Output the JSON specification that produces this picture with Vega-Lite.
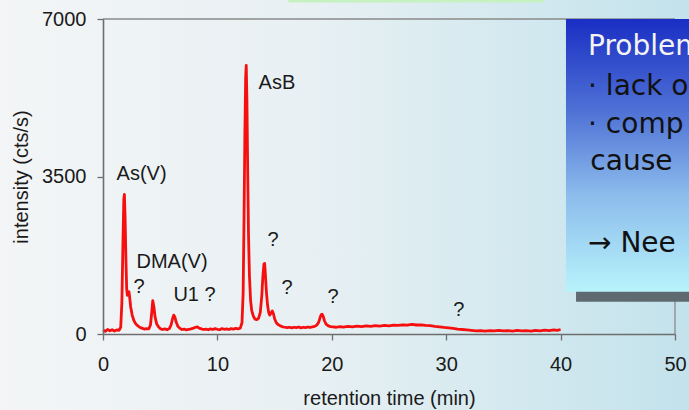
{
  "$schema": "https://vega.github.io/schema/vega-lite/v6.json",
  "width": 572,
  "height": 315,
  "autosize": {"type": "none"},
  "padding": {"left": 103, "top": 19, "right": 14, "bottom": 76},
  "background": "#e6eff2",
  "config": {"view": {"stroke": null}, "font": "Liberation Sans"},
  "datasets": {
    "chrom": [
      {"t": 0.0, "v": 90}, {"t": 0.2, "v": 60}, {"t": 0.4, "v": 100}, {"t": 0.6, "v": 70}, {"t": 0.8, "v": 95},
      {"t": 1.0, "v": 65}, {"t": 1.2, "v": 90}, {"t": 1.4, "v": 80}, {"t": 1.55, "v": 150}, {"t": 1.65, "v": 700},
      {"t": 1.75, "v": 2100}, {"t": 1.82, "v": 3000}, {"t": 1.87, "v": 3100}, {"t": 1.93, "v": 2600}, {"t": 2.0, "v": 1700},
      {"t": 2.07, "v": 1000}, {"t": 2.13, "v": 860}, {"t": 2.2, "v": 900}, {"t": 2.27, "v": 940}, {"t": 2.33, "v": 820},
      {"t": 2.42, "v": 600}, {"t": 2.55, "v": 420}, {"t": 2.7, "v": 300}, {"t": 2.85, "v": 230}, {"t": 3.0, "v": 190},
      {"t": 3.2, "v": 150}, {"t": 3.4, "v": 130}, {"t": 3.6, "v": 110}, {"t": 3.8, "v": 120}, {"t": 4.0, "v": 115},
      {"t": 4.15, "v": 200}, {"t": 4.25, "v": 450}, {"t": 4.35, "v": 740}, {"t": 4.45, "v": 600}, {"t": 4.55, "v": 380},
      {"t": 4.7, "v": 220}, {"t": 4.85, "v": 160}, {"t": 5.0, "v": 120}, {"t": 5.2, "v": 100}, {"t": 5.4, "v": 115},
      {"t": 5.6, "v": 95}, {"t": 5.8, "v": 120}, {"t": 5.95, "v": 200}, {"t": 6.08, "v": 340}, {"t": 6.18, "v": 420},
      {"t": 6.28, "v": 380}, {"t": 6.4, "v": 260}, {"t": 6.55, "v": 170}, {"t": 6.7, "v": 130}, {"t": 6.9, "v": 100},
      {"t": 7.1, "v": 110}, {"t": 7.3, "v": 90}, {"t": 7.5, "v": 105}, {"t": 7.7, "v": 115}, {"t": 7.9, "v": 130},
      {"t": 8.1, "v": 150}, {"t": 8.25, "v": 160}, {"t": 8.4, "v": 130}, {"t": 8.6, "v": 115}, {"t": 8.8, "v": 100},
      {"t": 9.0, "v": 110}, {"t": 9.2, "v": 95}, {"t": 9.4, "v": 115}, {"t": 9.6, "v": 100}, {"t": 9.8, "v": 120},
      {"t": 10.0, "v": 105}, {"t": 10.2, "v": 95}, {"t": 10.4, "v": 120}, {"t": 10.6, "v": 105}, {"t": 10.8, "v": 115},
      {"t": 11.0, "v": 100}, {"t": 11.2, "v": 120}, {"t": 11.4, "v": 110}, {"t": 11.6, "v": 125}, {"t": 11.8, "v": 115},
      {"t": 12.0, "v": 130}, {"t": 12.15, "v": 250}, {"t": 12.25, "v": 900}, {"t": 12.33, "v": 2600}, {"t": 12.4, "v": 4400},
      {"t": 12.47, "v": 5700}, {"t": 12.52, "v": 5970}, {"t": 12.58, "v": 5200}, {"t": 12.65, "v": 3600}, {"t": 12.72, "v": 2200},
      {"t": 12.8, "v": 1300}, {"t": 12.9, "v": 750}, {"t": 13.0, "v": 520}, {"t": 13.15, "v": 390}, {"t": 13.3, "v": 330},
      {"t": 13.45, "v": 320}, {"t": 13.6, "v": 350}, {"t": 13.75, "v": 480}, {"t": 13.88, "v": 850}, {"t": 13.98, "v": 1300},
      {"t": 14.07, "v": 1560}, {"t": 14.13, "v": 1570}, {"t": 14.2, "v": 1300}, {"t": 14.28, "v": 950}, {"t": 14.38, "v": 650},
      {"t": 14.48, "v": 480}, {"t": 14.58, "v": 420}, {"t": 14.7, "v": 470}, {"t": 14.8, "v": 510}, {"t": 14.9, "v": 450},
      {"t": 15.0, "v": 340}, {"t": 15.15, "v": 250}, {"t": 15.3, "v": 210}, {"t": 15.5, "v": 180}, {"t": 15.7, "v": 160},
      {"t": 15.9, "v": 150}, {"t": 16.1, "v": 140}, {"t": 16.3, "v": 150}, {"t": 16.5, "v": 135}, {"t": 16.7, "v": 150},
      {"t": 16.9, "v": 140}, {"t": 17.1, "v": 155}, {"t": 17.3, "v": 135}, {"t": 17.5, "v": 150}, {"t": 17.7, "v": 140},
      {"t": 17.9, "v": 155}, {"t": 18.1, "v": 145}, {"t": 18.3, "v": 160}, {"t": 18.5, "v": 170}, {"t": 18.7, "v": 200},
      {"t": 18.85, "v": 260}, {"t": 18.97, "v": 360}, {"t": 19.07, "v": 430}, {"t": 19.15, "v": 440}, {"t": 19.25, "v": 390},
      {"t": 19.35, "v": 300}, {"t": 19.5, "v": 220}, {"t": 19.7, "v": 180}, {"t": 19.9, "v": 165}, {"t": 20.1, "v": 160},
      {"t": 20.4, "v": 150}, {"t": 20.7, "v": 165}, {"t": 21.0, "v": 155}, {"t": 21.4, "v": 170}, {"t": 21.8, "v": 160},
      {"t": 22.2, "v": 175}, {"t": 22.6, "v": 165}, {"t": 23.0, "v": 180}, {"t": 23.4, "v": 170}, {"t": 23.8, "v": 185},
      {"t": 24.2, "v": 175}, {"t": 24.6, "v": 190}, {"t": 25.0, "v": 180}, {"t": 25.4, "v": 195}, {"t": 25.8, "v": 190},
      {"t": 26.2, "v": 205}, {"t": 26.6, "v": 195}, {"t": 27.0, "v": 215}, {"t": 27.4, "v": 200}, {"t": 27.8, "v": 205},
      {"t": 28.2, "v": 190}, {"t": 28.6, "v": 185}, {"t": 29.0, "v": 170}, {"t": 29.4, "v": 160}, {"t": 29.8, "v": 145},
      {"t": 30.2, "v": 135}, {"t": 30.6, "v": 125}, {"t": 31.0, "v": 110}, {"t": 31.4, "v": 100}, {"t": 31.8, "v": 90},
      {"t": 32.2, "v": 80}, {"t": 32.6, "v": 70}, {"t": 33.0, "v": 75}, {"t": 33.4, "v": 65}, {"t": 33.8, "v": 75},
      {"t": 34.2, "v": 70}, {"t": 34.6, "v": 80}, {"t": 35.0, "v": 70}, {"t": 35.4, "v": 75}, {"t": 35.8, "v": 65},
      {"t": 36.2, "v": 80}, {"t": 36.6, "v": 70}, {"t": 37.0, "v": 75}, {"t": 37.4, "v": 65}, {"t": 37.8, "v": 80},
      {"t": 38.2, "v": 70}, {"t": 38.6, "v": 85}, {"t": 39.0, "v": 75}, {"t": 39.4, "v": 90}, {"t": 39.7, "v": 80},
      {"t": 40.0, "v": 100}
    ],
    "peaks": [
      {"t": 3.37, "v": 3555, "label": "As(V)"},
      {"t": 15.2, "v": 5570, "label": "AsB"},
      {"t": 6.03, "v": 1600, "label": "DMA(V)"},
      {"t": 3.15, "v": 1045, "label": "?"},
      {"t": 8.0, "v": 865, "label": "U1 ?"},
      {"t": 14.86, "v": 2090, "label": "?"},
      {"t": 16.1, "v": 1020, "label": "?"},
      {"t": 20.1, "v": 820, "label": "?"},
      {"t": 31.1, "v": 530, "label": "?"}
    ],
    "boxhead": [
      {"t": 42.4, "v": 6200, "text": "Problem"}
    ],
    "boxtext": [
      {"t": 42.4, "v": 5311, "text": "· lack o"},
      {"t": 42.4, "v": 4467, "text": "· comp"},
      {"t": 42.6, "v": 3644, "text": "cause"},
      {"t": 42.4, "v": 1822, "text": "→ Nee"}
    ]
  },
  "layer": [
    {
      "data": {"values": [{}]},
      "mark": {"type": "rect", "fill": {"gradient": "linear", "x1": 0, "y1": 0, "x2": 1, "y2": 0,
        "stops": [{"offset": 0, "color": "#f3f5f6"}, {"offset": 0.45, "color": "#e8f0f3"}, {"offset": 0.75, "color": "#d3e9ef"}, {"offset": 1, "color": "#c3e2ec"}]}},
      "encoding": {
        "x": {"datum": -9.01, "type": "quantitative", "scale": {"domain": [0, 50], "nice": false}},
        "x2": {"datum": 51.3},
        "y": {"datum": 7430, "type": "quantitative", "scale": {"domain": [0, 7000], "nice": false}},
        "y2": {"datum": -1700}
      }
    },
    {
      "data": {"values": [{}]},
      "mark": {"type": "rect", "fill": "#c6f2c1"},
      "encoding": {
        "x": {"datum": 16.2, "type": "quantitative"},
        "x2": {"datum": 38.5},
        "y": {"datum": 7430, "type": "quantitative"},
        "y2": {"datum": 7365}
      }
    },
    {
      "data": {"values": [{}]},
      "mark": {"type": "rule", "color": "#8a8a8a", "strokeWidth": 1.3},
      "encoding": {
        "x": {"datum": 0, "type": "quantitative"},
        "x2": {"datum": 50},
        "y": {"datum": 7000, "type": "quantitative"}
      }
    },
    {
      "data": {"values": [{}]},
      "mark": {"type": "rule", "color": "#8a8a8a", "strokeWidth": 1.3},
      "encoding": {
        "x": {"datum": 50, "type": "quantitative"},
        "y": {"datum": 0, "type": "quantitative"},
        "y2": {"datum": 7000}
      }
    },
    {
      "data": {"name": "chrom"},
      "mark": {"type": "line", "color": "#f50f0f", "strokeWidth": 2.8, "strokeJoin": "round"},
      "encoding": {
        "x": {"field": "t", "type": "quantitative",
          "axis": {"values": [0, 10, 20, 30, 40, 50], "title": "retention time (min)", "grid": false, "zindex": 1,
            "domainColor": "#6e6e6e", "domainWidth": 1.6, "tickColor": "#6e6e6e", "tickSize": 6, "tickWidth": 1.3,
            "labelFontSize": 20, "labelColor": "#1a1a1a", "labelPadding": 14, "labelFlush": false,
            "titleFontSize": 20, "titleFontWeight": "normal", "titleColor": "#1a1a1a", "titlePadding": 14}},
        "y": {"field": "v", "type": "quantitative",
          "axis": {"values": [0, 3500, 7000], "format": "d", "title": "intensity (cts/s)", "grid": false, "zindex": 1,
            "domainColor": "#6e6e6e", "domainWidth": 1.6, "tickColor": "#6e6e6e", "tickSize": 6, "tickWidth": 1.3,
            "labelFontSize": 20, "labelColor": "#1a1a1a", "labelPadding": 11, "labelFlush": false,
            "titleFontSize": 20, "titleFontWeight": "normal", "titleColor": "#1a1a1a", "titlePadding": 10}}
      }
    },
    {
      "data": {"name": "peaks"},
      "mark": {"type": "text", "fontSize": 20, "color": "#1a1a1a", "align": "center", "baseline": "middle"},
      "encoding": {
        "x": {"field": "t", "type": "quantitative"},
        "y": {"field": "v", "type": "quantitative"},
        "text": {"field": "label"}
      }
    },
    {
      "data": {"values": [{}]},
      "mark": {"type": "rect", "fill": "#5e6a70"},
      "encoding": {
        "x": {"datum": 41.35, "type": "quantitative"},
        "x2": {"datum": 52},
        "y": {"datum": 6800, "type": "quantitative"},
        "y2": {"datum": 717}
      }
    },
    {
      "data": {"values": [{}]},
      "mark": {"type": "rect", "fill": {"gradient": "linear", "x1": 0, "y1": 0, "x2": 0, "y2": 1,
        "stops": [{"offset": 0, "color": "#1a2ec4"}, {"offset": 0.35, "color": "#5174d6"}, {"offset": 0.65, "color": "#8dbdec"}, {"offset": 1, "color": "#b8f3fb"}]}},
      "encoding": {
        "x": {"datum": 40.47, "type": "quantitative"},
        "x2": {"datum": 52},
        "y": {"datum": 7000, "type": "quantitative"},
        "y2": {"datum": 940}
      }
    },
    {
      "data": {"name": "boxhead"},
      "mark": {"type": "text", "font": "DejaVu Sans", "fontSize": 28, "color": "#f4f4f4", "align": "left", "baseline": "alphabetic"},
      "encoding": {
        "x": {"field": "t", "type": "quantitative"},
        "y": {"field": "v", "type": "quantitative"},
        "text": {"field": "text"}
      }
    },
    {
      "data": {"name": "boxtext"},
      "mark": {"type": "text", "font": "DejaVu Sans", "fontSize": 28, "color": "#111111", "align": "left", "baseline": "alphabetic"},
      "encoding": {
        "x": {"field": "t", "type": "quantitative"},
        "y": {"field": "v", "type": "quantitative"},
        "text": {"field": "text"}
      }
    }
  ]
}
